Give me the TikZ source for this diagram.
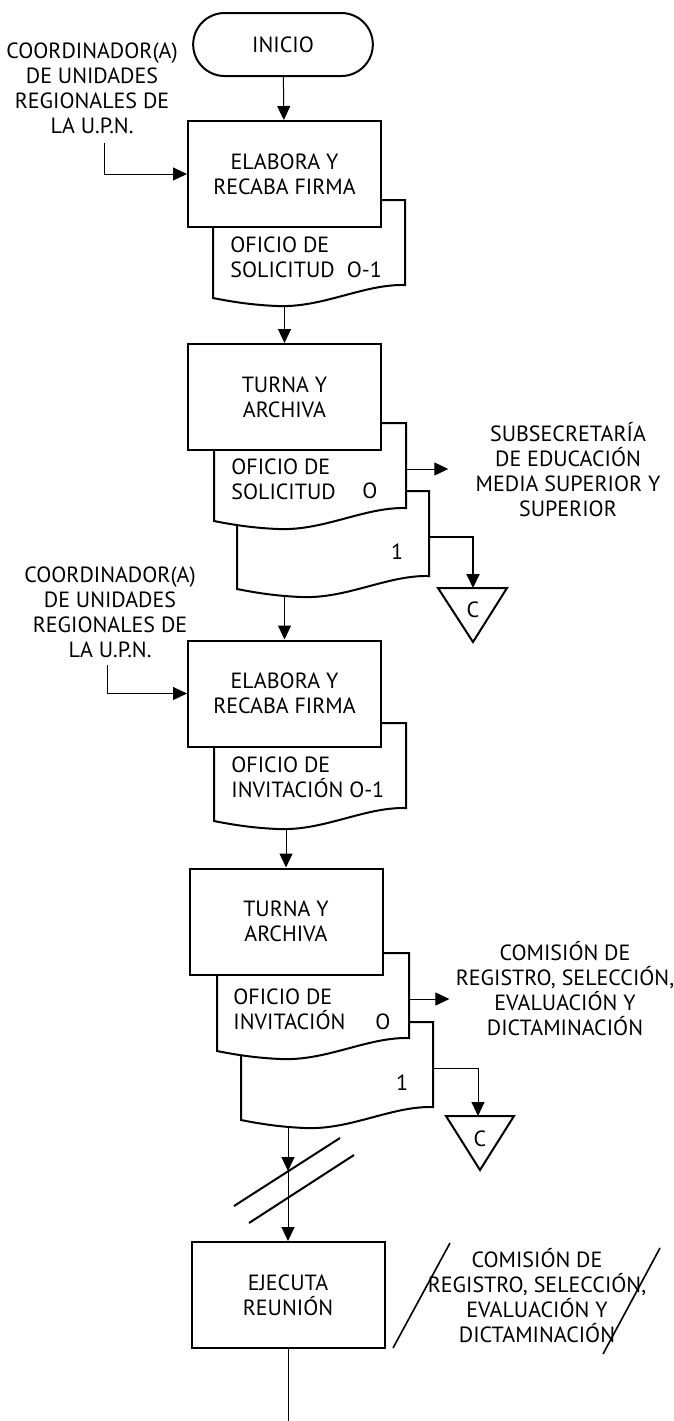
\documentclass[tikz,border=0pt]{standalone}
\usepackage{fontspec}
\setmainfont{PT Sans}
\usetikzlibrary{arrows.meta,shapes.misc}

\tikzset{
	box/.style={draw,line width=1pt,fill=white,minimum width=96.5pt,minimum height=53pt,align=center,inner sep=0},
	lbl/.style={align=center,inner sep=0},
	arr/.style={line width=0.5pt,-{Triangle[length=7pt,width=6.5pt]}},
	docu/.pic={
		\draw[line width=1pt,fill=white] (0,0) -- (192,0) -- (192,85) .. controls (150,84) and (110,108) .. (64,106) .. controls (40,105) and (20,102) .. (0,98) -- cycle;
		\coordinate (-bot) at (64,106);
		\coordinate (-r) at (192,46);
	}
}

\begin{document}
\begin{tikzpicture}[x=0.5pt,y=-0.5pt,font=\fontsize{11}{12.5}\selectfont]
	\useasboundingbox (0,0) rectangle (674,1421);
	% inicio
	\node[draw,line width=1pt,rounded rectangle,minimum width=96.5pt,minimum height=31.5pt] (ini) at (283,44.5) {INICIO};
	% elabora oficio de solicitud
	\pic (d1) at (213,200) {docu};
	\node[box] (e1) at (284.5,174) {ELABORA Y\\RECABA FIRMA};
	\node[lbl,align=left,anchor=west] (o1) at (230,257.5) {OFICIO DE\\SOLICITUD\hspace{6pt}O-1};
	\node[lbl] (co1) at (92,88) {COORDINADOR(A)\\DE UNIDADES\\REGIONALES DE\\LA U.P.N.};
	\coordinate (s1) at (104,143);
	% turna y archiva
	\pic (d3) at (237,491) {docu};
	\pic (d2) at (214,423) {docu};
	\node[box] (t1) at (284.5,397) {TURNA Y\\ARCHIVA};
	\node[lbl,align=left,anchor=west] (o2) at (231,479) {OFICIO DE\\SOLICITUD};
	\node[lbl] (n0a) at (370,491) {O};
	\node[lbl] (n1a) at (397,552) {1};
	\node[lbl] (sub) at (568,470) {SUBSECRETARÍA\\DE EDUCACIÓN\\MEDIA SUPERIOR Y\\SUPERIOR};
	\draw[line width=1pt] (438,588) -- (507,588) -- (473,642) -- cycle;
	\node[lbl] (c1) at (473,610) {C};
	\coordinate (c1top) at (473,588);
	% elabora oficio de invitacion
	\pic (d4) at (214,723) {docu};
	\node[box] (e2) at (284.5,693.5) {ELABORA Y\\RECABA FIRMA};
	\node[lbl,align=left,anchor=west] (o3) at (231,777) {OFICIO DE\\INVITACIÓN O-1};
	\node[lbl] (co2) at (110,612.5) {COORDINADOR(A)\\DE UNIDADES\\REGIONALES DE\\LA U.P.N.};
	\coordinate (s2) at (107,665);
	% turna y archiva
	\pic (d6) at (241,1022) {docu};
	\pic (d5) at (217,953) {docu};
	\node[box] (t2) at (286,921.5) {TURNA Y\\ARCHIVA};
	\node[lbl,align=left,anchor=west] (o4) at (233,1009.5) {OFICIO DE\\INVITACIÓN};
	\node[lbl] (n0b) at (383,1022) {O};
	\node[lbl] (n1b) at (402,1083) {1};
	\node[lbl] (com1) at (565,988.5) {COMISIÓN DE\\REGISTRO, SELECCIÓN,\\EVALUACIÓN Y\\DICTAMINACIÓN};
	\draw[line width=1pt] (446,1116) -- (514,1116) -- (480,1170) -- cycle;
	\node[lbl] (c2) at (480,1139) {C};
	\coordinate (c2top) at (478,1116);
	% ejecuta reunion
	\draw[line width=1pt] (234,1206) -- (340,1138);
	\draw[line width=1pt] (249,1223) -- (354,1155);
	\coordinate (cut) at (288,1171);
	\node[box] (ej) at (288,1295) {EJECUTA\\REUNIÓN};
	\draw[line width=0.8pt] (393,1348) -- (450,1243);
	\draw[line width=0.8pt] (603,1354) -- (660,1248);
	\node[lbl] (com2) at (537,1296) {COMISIÓN DE\\REGISTRO, SELECCIÓN,\\EVALUACIÓN Y\\DICTAMINACIÓN};
	\coordinate (fin) at (288,1421);
	% conectores
	\draw[arr] (ini) -- (e1);
	\draw[arr] (s1) |- (e1.west);
	\draw[arr] (e1.south |- d1-bot) -- (t1.north);
	\draw[arr,shorten >=13.5pt] (d2-r) -- (d2-r -| sub.west);
	\draw[arr,line width=1pt] (d3-r) -| (c1top);
	\draw[arr] (t1.south |- d3-bot) -- (e2.north);
	\draw[arr] (s2) |- (e2.west);
	\draw[arr] (t2.north |- d4-bot) -- (t2.north);
	\draw[arr,shorten >=3pt] (d5-r) -- (d5-r -| com1.west);
	\draw[arr] (d6-r) -| (c2top);
	\draw[arr] (ej.north |- d6-bot) -- (cut);
	\draw[arr] (cut) -- (ej.north);
	\draw (ej.south) -- (fin);
\end{tikzpicture}
\end{document}
